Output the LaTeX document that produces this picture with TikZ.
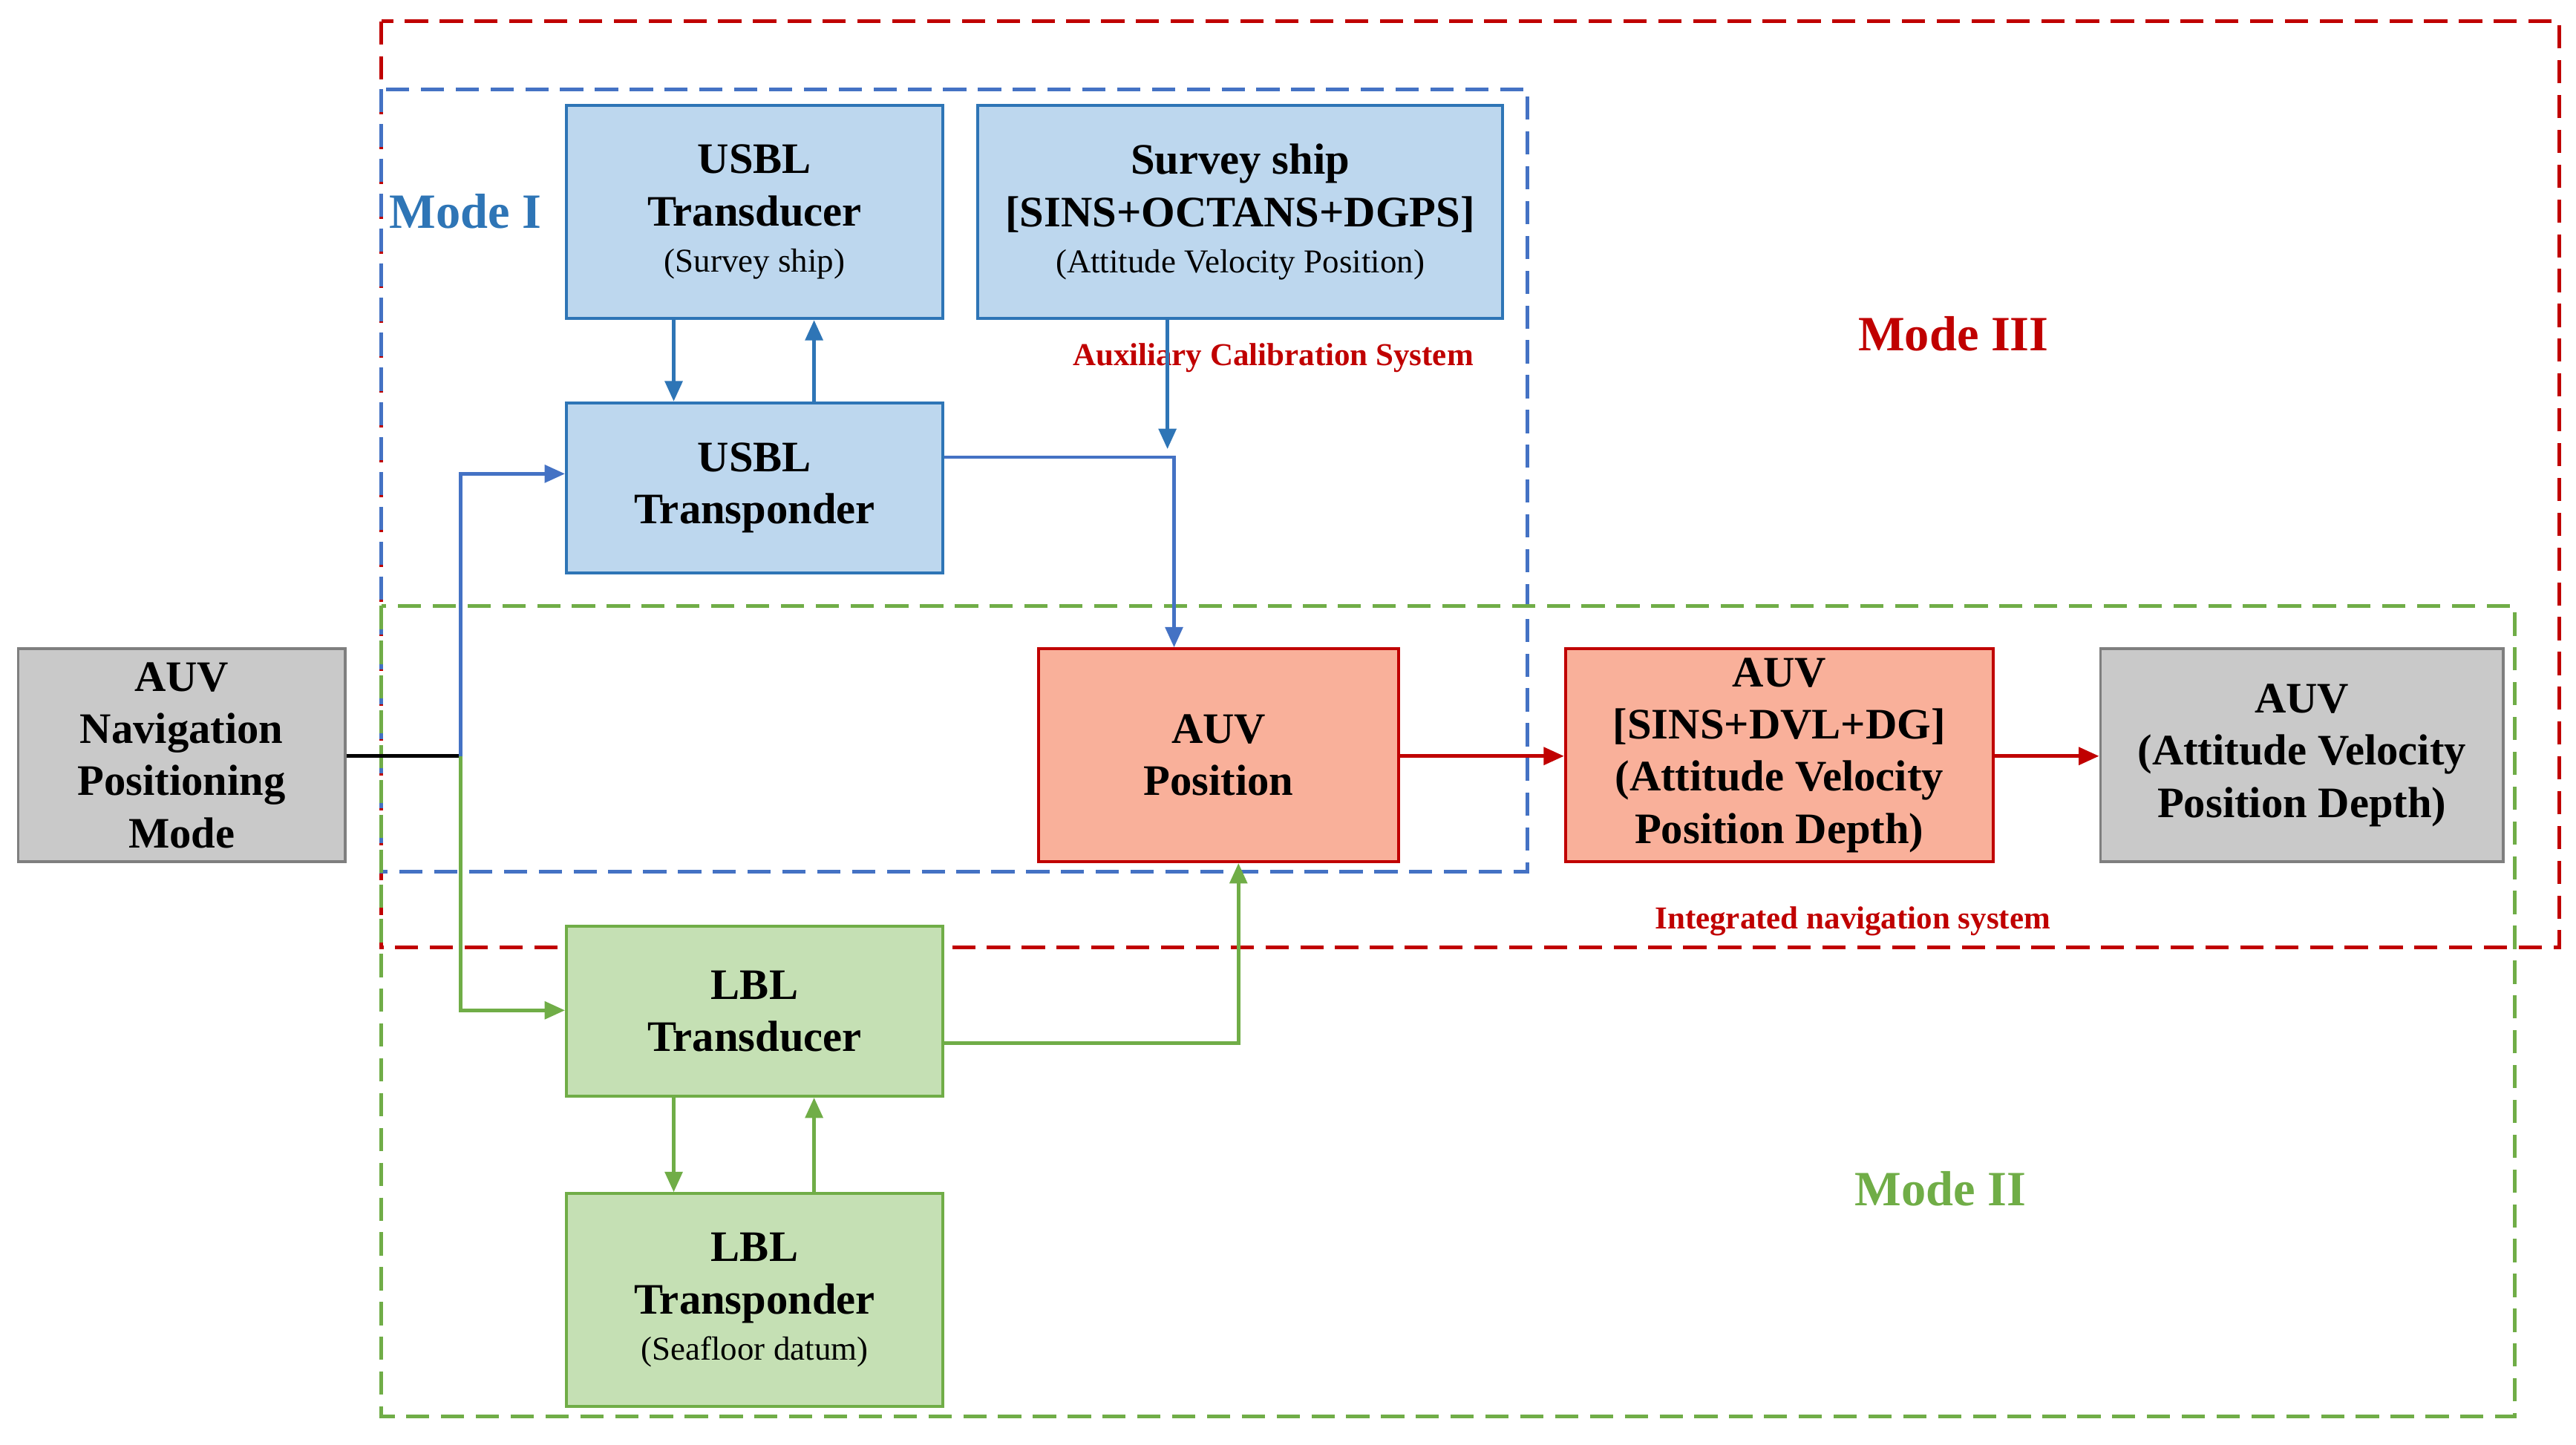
\documentclass[tikz,border=0pt]{standalone}
\usepackage{fontspec}
\setmainfont{Liberation Serif}
\usetikzlibrary{arrows.meta}
\definecolor{bfill}{HTML}{BDD7EE}\definecolor{bline}{HTML}{2E75B6}
\definecolor{gfill}{HTML}{C5E0B4}\definecolor{gline}{HTML}{70AD47}
\definecolor{rfill}{HTML}{F9B09A}\definecolor{rline}{HTML}{C00000}
\definecolor{kfill}{HTML}{C9C9C9}\definecolor{kline}{HTML}{7F7F7F}
\definecolor{dblue}{HTML}{4472C4}
\newcommand{\smtxt}{\fontsize{11.5}{14}\selectfont\mdseries}
\begin{document}
\begin{tikzpicture}[x=0.02cm,y=-0.02cm,
 box/.style={draw,line width=1pt,align=center,inner sep=0pt,font=\fontsize{15}{18}\selectfont\bfseries},
 bb/.style={box,fill=bfill,draw=bline},gb/.style={box,fill=gfill,draw=gline},
 rb/.style={box,fill=rfill,draw=rline},kb/.style={box,fill=kfill,draw=kline},
 arr/.style={line width=1.2pt,-{Triangle[length=7pt,width=6pt]}},
 dsh/.style={line width=1.3pt,dash pattern=on 8pt off 4pt}]
\useasboundingbox (0,0) rectangle (1560,875);
\draw[dsh,rline] (231,13) rectangle (1550,574);
\draw[dsh,dblue] (231,54) rectangle (925,528);
\draw[dsh,gline] (231,367) rectangle (1523,858);
\node[bb,minimum width=4.56cm,minimum height=2.58cm] (ut) at (457,128.5) {USBL\\Transducer\\[-2pt]{\smtxt (Survey ship)}};
\node[bb,minimum width=6.36cm,minimum height=2.58cm] (ss) at (751,128.5) {Survey ship\\{[}SINS+OCTANS+DGPS{]}\\[-2pt]{\smtxt (Attitude Velocity Position)}};
\node[bb,minimum width=4.56cm,minimum height=2.06cm] (up) at (457,295.5) {USBL\\Transponder};
\node[kb,minimum width=3.96cm,minimum height=2.58cm] (nav) at (110,457.5) {AUV\\Navigation\\Positioning\\Mode};
\node[rb,minimum width=4.36cm,minimum height=2.58cm] (pos) at (738,457.5) {AUV\\Position};
\node[rb,minimum width=5.18cm,minimum height=2.58cm] (sins) at (1077.5,457.5) {AUV\\{[}SINS+DVL+DG{]}\\(Attitude Velocity\\Position Depth)};
\node[kb,minimum width=4.88cm,minimum height=2.58cm] (out) at (1394,457.5) {AUV\\(Attitude Velocity\\Position Depth)};
\node[gb,minimum width=4.56cm,minimum height=2.06cm] (lt) at (457,612.5) {LBL\\Transducer};
\node[gb,minimum width=4.56cm,minimum height=2.58cm] (lp) at (457,787.5) {LBL\\Transponder\\[-2pt]{\smtxt (Seafloor datum)}};
\node[text=bline,font=\fontsize{17}{20}\selectfont\bfseries] (m1) at (282,128) {Mode I};
\node[text=rline,font=\fontsize{17}{20}\selectfont\bfseries] (m3) at (1183,202) {Mode III};
\node[text=gline,font=\fontsize{17}{20}\selectfont\bfseries] (m2) at (1175,720) {Mode II};
\node[text=rline,font=\fontsize{11}{13}\selectfont\bfseries] (acs) at (771,217) {Auxiliary Calibration System};
\node[text=rline,font=\fontsize{11}{13}\selectfont\bfseries] (ins) at (1122,558) {Integrated navigation system};
\coordinate (j) at (279,458);
\draw[line width=1.2pt] (nav.east|-j) -- (j);
\draw[arr,dblue] (j) |- (up.west|-0,287);
\draw[arr,gline] (j) |- (lt.west|-0,612);
\draw[arr,bline] (ut.south-|408,0) -- (up.north-|408,0);
\draw[arr,bline] (up.north-|493,0) -- (ut.south-|493,0);
\draw[arr,bline] (ss.south-|707,0) -- (707,272);
\draw[arr,dblue] (up.east|-0,277) -| (pos.north-|711,0);
\draw[arr,gline] (lt.east|-0,632) -| (pos.south-|750,0);
\draw[arr,gline] (lt.south-|408,0) -- (lp.north-|408,0);
\draw[arr,gline] (lp.north-|493,0) -- (lt.south-|493,0);
\draw[arr,rline] (pos.east|-0,458) -- (sins.west|-0,458);
\draw[arr,rline] (sins.east|-0,458) -- (out.west|-0,458);
\end{tikzpicture}
\end{document}
